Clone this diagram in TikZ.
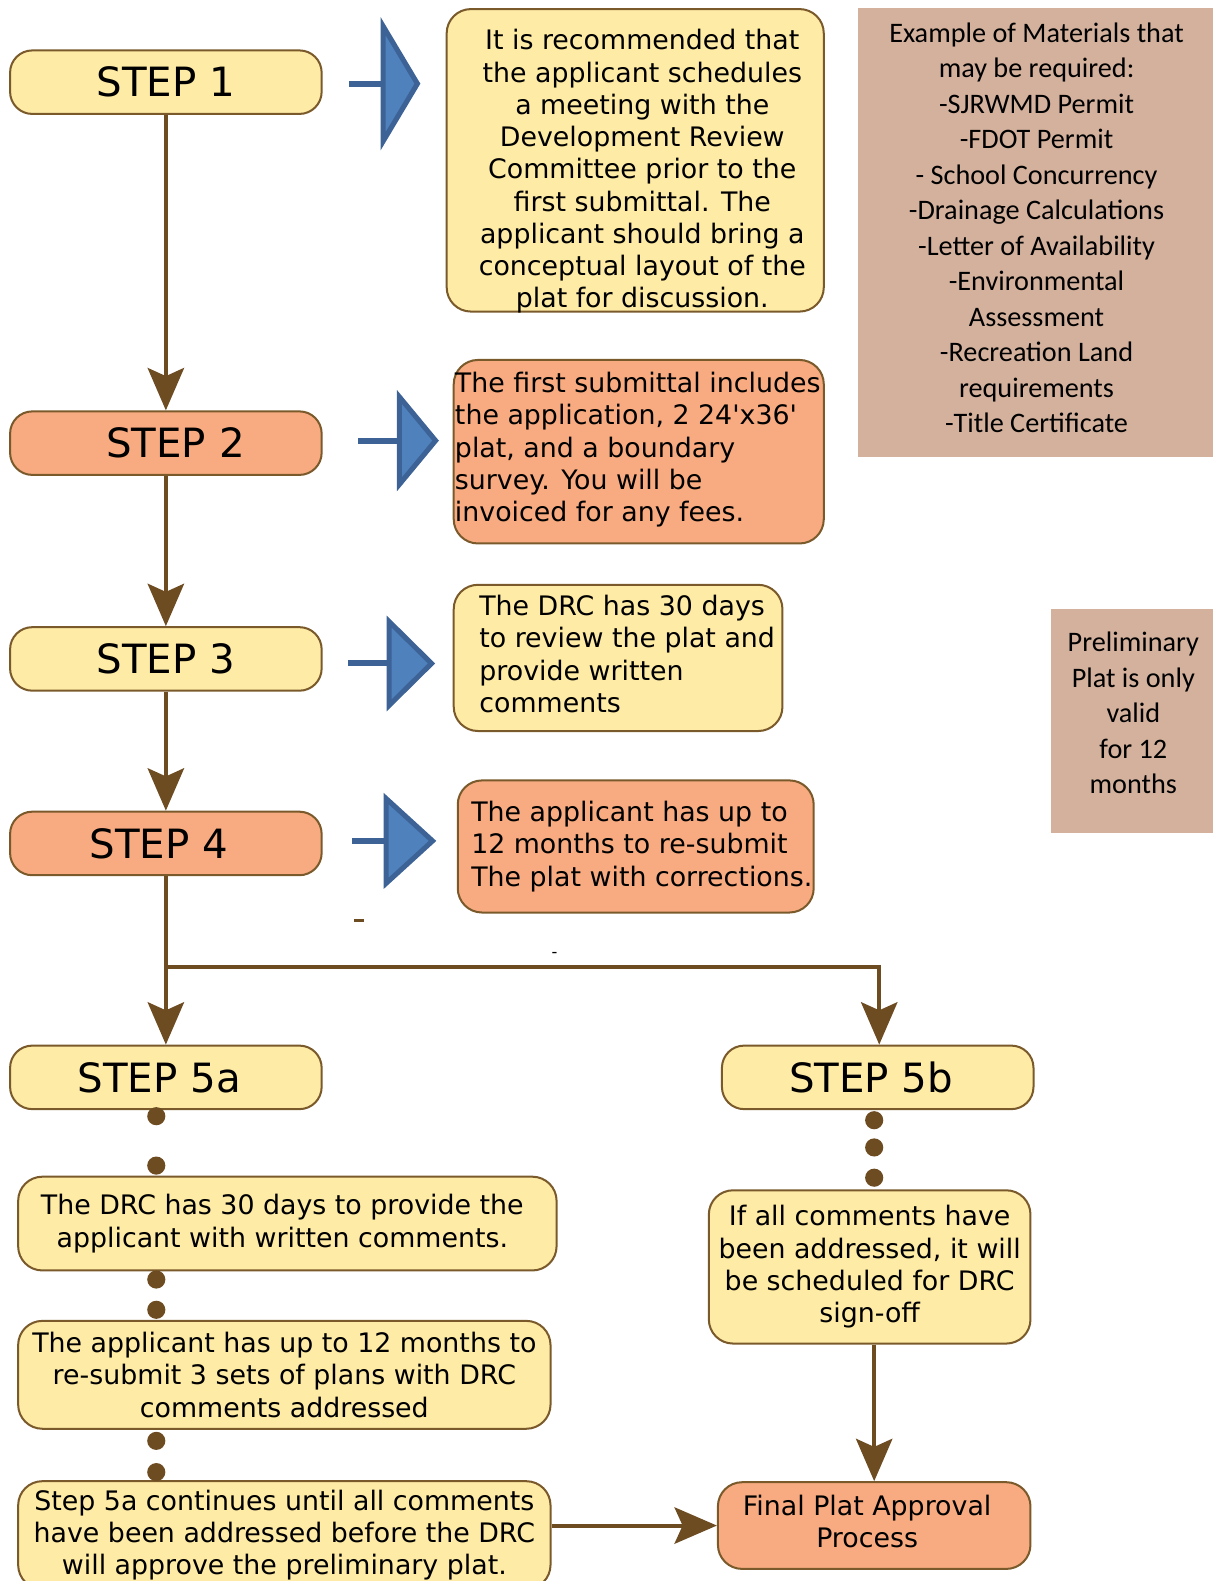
\documentclass[tikz,border=0pt]{standalone}
\usepackage{fontspec}
\setmainfont{DejaVu Sans}
\newfontfamily\calfont{Carlito}
\usetikzlibrary{positioning, arrows.meta, calc}

\definecolor{stepyellow}{HTML}{FEEBA6}
\definecolor{steporange}{HTML}{F8AB80}
\definecolor{edgebrown}{HTML}{7A5A2B}
\definecolor{linebrown}{HTML}{6E4C22}
\definecolor{notetan}{HTML}{D3B19D}
\definecolor{pointblue}{HTML}{4F81BD}
\definecolor{pointdark}{HTML}{3C6296}

\tikzset{
  stepbox/.style={draw=edgebrown, line width=1pt, rounded corners=11pt, minimum width=154.5pt,
    minimum height=31.5pt, inner sep=0pt, font=\fontsize{20}{24}\selectfont},
  steptext/.style={inner sep=0pt, font=\fontsize{20}{24}\selectfont},
  notebox/.style={draw=edgebrown, line width=1pt, rounded corners=12pt, inner sep=0pt,
    font=\fontsize{13.3}{16}\selectfont},
  notetext/.style={inner sep=0pt, font=\fontsize{13.3}{16}\selectfont},
  tanbox/.style={fill=notetan, inner sep=0pt},
  tantext/.style={inner sep=0pt, align=center, font=\calfont\fontsize{14}{17.6}\selectfont},
  flow/.style={draw=linebrown, line width=2pt, -{Stealth[length=21pt, width=18pt, inset=4pt]}},
  joindot/.style={circle, fill=linebrown, minimum size=9pt, inner sep=0pt},
}

% blue pointer: stem start, triangle base x, centre y, half height, tip x
\newcommand{\pointer}[5]{%
  \draw[pointdark, line width=3pt] (#1,#3) -- (#2,#3);
  \draw[fill=pointblue, draw=pointdark, line width=2.5pt, line join=miter]
    (#2,#3-#4) -- (#5,#3) -- (#2,#3+#4) -- cycle;
}

\begin{document}
\begin{tikzpicture}[x=0.5pt, y=-0.5pt]
\useasboundingbox (0,0) rectangle (1203,1568);

% steps
\node[stepbox, fill=stepyellow] (s1) at (164.5,81.5) {STEP 1};
\node[stepbox, fill=steporange] (s2) at (164.5,439.5) {};
\node[steptext] (s2t) at (174,439.5) {STEP 2};
\node[stepbox, fill=stepyellow] (s3) at (164.5,653.5) {STEP 3};
\node[stepbox, fill=steporange] (s4) at (164.5,836.5) {};
\node[steptext] (s4t) at (157.5,836.5) {STEP 4};
\node[stepbox, fill=stepyellow] (s5a) at (164.5,1068.5) {};
\node[steptext] (s5at) at (158,1068.5) {STEP 5a};
\node[stepbox, fill=stepyellow] (s5b) at (870.5,1068.5) {};
\node[steptext] (s5bt) at (864,1068.5) {STEP 5b};

% notes beside the steps
\node[notebox, fill=stepyellow, minimum width=187pt, minimum height=150pt] (n1) at (630,159) {};
\node[notetext, align=center] (n1t) at (637,170)
  {It is recommended that\\the applicant schedules\\a meeting with the\\Development Review\\
   Committee prior to the\\first submittal. The\\applicant should bring a\\conceptual layout of the\\
   plat for discussion.};
\node[notebox, fill=steporange, minimum width=183.5pt, minimum height=91pt] (n2) at (633.5,448) {};
\node[notetext, align=left] (n2t) at (632.5,446)
  {The first submittal includes\\the application, 2 24\textquotesingle x36\textquotesingle\\plat, and a boundary\\
   survey. You will be\\invoiced for any fees.};
\node[notebox, fill=stepyellow, minimum width=163pt, minimum height=72.5pt] (n3) at (613,652.5) {};
\node[notetext, align=left] (n3t) at (622,648.5)
  {The DRC has 30 days\\to review the plat and\\provide written\\comments};
\node[notebox, fill=steporange, minimum width=176.5pt, minimum height=65.5pt] (n4) at (630.5,839.5) {};
\node[notetext, align=left] (n4t) at (636.5,839.5)
  {The applicant has up to\\12 months to re-submit\\The plat with corrections.};

\pointer{346}{380}{83}{57}{414}
\pointer{355}{396}{437}{43.5}{432}
\pointer{345}{386}{658}{41.5}{428}
\pointer{349}{383}{834}{42}{429}

% side notes
\node[tanbox, minimum width=176pt, minimum height=222.5pt] (mat) at (1027,230.5) {};
\node[tantext] (matt) at (1028,226)
  {Example of Materials that\\may be required:\\-SJRWMD Permit\\-FDOT Permit\\- School Concurrency\\
   -Drainage Calculations\\-Letter of Availability\\-Environmental\\Assessment\\-Recreation Land\\
   requirements\\-Title Certificate};
\node[tanbox, minimum width=80.5pt, minimum height=111pt] (valid) at (1122.5,715) {};
\node[tantext] (validt) at (1124,707) {Preliminary\\Plat is only\\valid\\for 12\\months};

% step 5a chain
\node[notebox, fill=stepyellow, minimum width=267pt, minimum height=46.5pt] (a1) at (285,1213.5) {};
\node[notetext, align=center] (a1t) at (280,1213.5)
  {The DRC has 30 days to provide the\\applicant with written comments.};
\node[notebox, fill=stepyellow, minimum width=264pt, minimum height=53.5pt, align=center] (a2) at (282,1363.5)
  {The applicant has up to 12 months to\\re-submit 3 sets of plans with DRC\\comments addressed};
\node[notebox, fill=stepyellow, minimum width=264pt, minimum height=53.5pt, align=center] (a3) at (282,1522.5)
  {Step 5a continues until all comments\\have been addressed before the DRC\\will approve the preliminary plat.};

% step 5b chain
\node[notebox, fill=stepyellow, minimum width=159.5pt, minimum height=76pt, align=center] (b1) at (862.5,1256.5)
  {If all comments have\\been addressed, it will\\be scheduled for DRC\\sign-off};
\node[notebox, fill=steporange, minimum width=155pt, minimum height=43pt] (fin) at (867,1513) {};
\node[notetext, align=center] (fint) at (860,1509) {Final Plat Approval\\Process};

% dots
\foreach \y [count=\i] in {1107,1156,1269,1299,1429,1460}
  \node[joindot] (da\i) at (155,\y) {};
\foreach \y [count=\i] in {1111,1138,1168}
  \node[joindot] (db\i) at (867,\y) {};

% connectors
\draw[flow] (s1) -- (s2);
\draw[flow] (s2) -- (s3);
\draw[flow] (s3) -- (s4);
\draw[flow] (s4) -- (s5a);
\coordinate (split) at (165,959);
\draw[flow] (split) -| (s5b.north -| 872,0);
\draw[flow] (fin.north |- b1.south) -- (fin.north);
\draw[flow] (a3.east |- fin.west) -- (fin.west);

% stray marks
\draw[linebrown, line width=1.5pt] (351,913) -- (361,913);
\node[inner sep=0pt, font=\fontsize{8}{8}\selectfont] (tick) at (550,947) {-};
\end{tikzpicture}
\end{document}
